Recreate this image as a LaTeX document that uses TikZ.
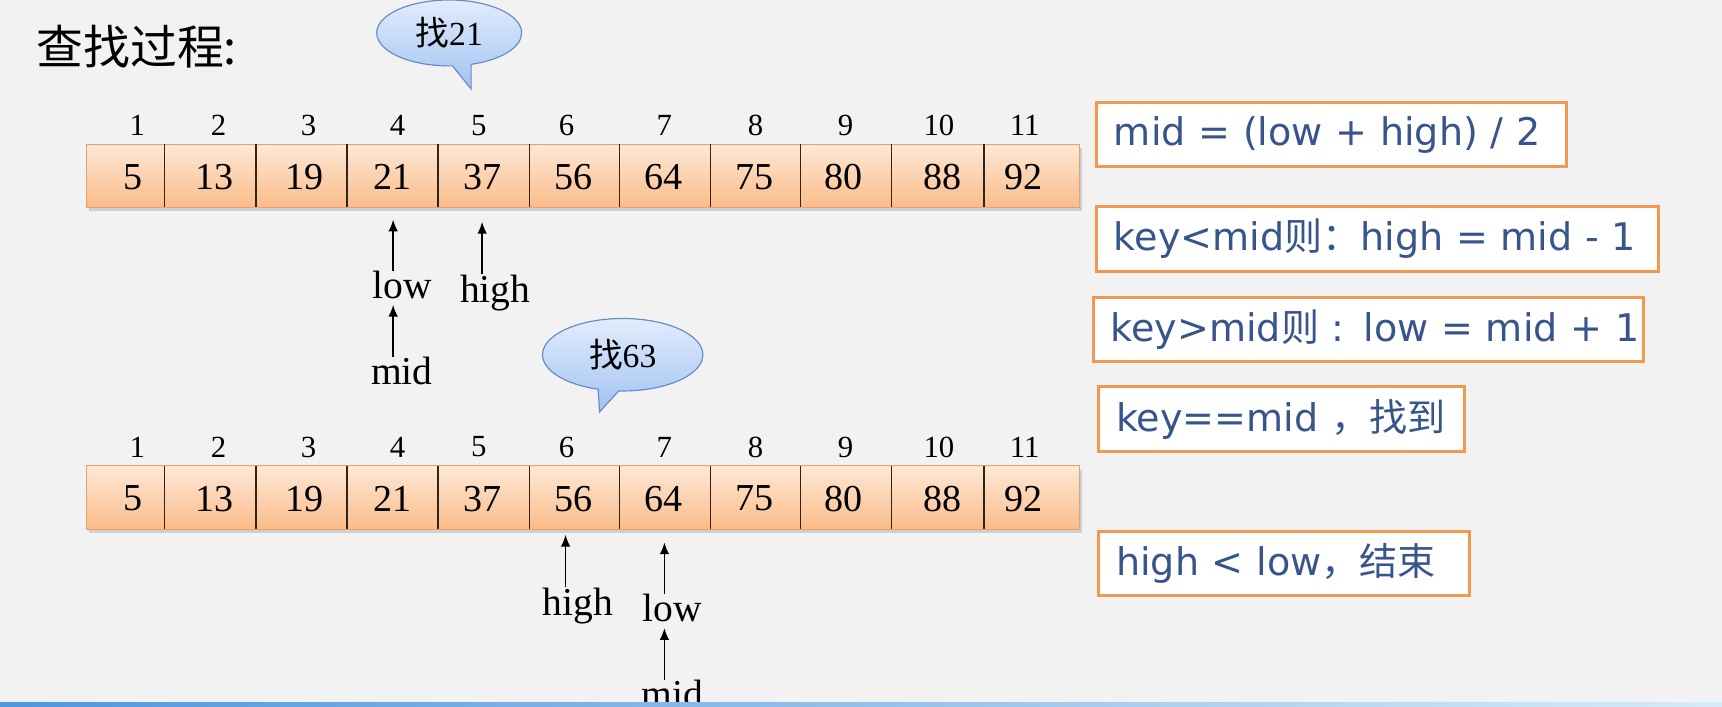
\documentclass[tikz,border=0pt]{standalone}
\usepackage{fontspec}
\setmainfont{Liberation Serif}
\newfontfamily\cjk{Noto Sans CJK SC}
\newfontfamily\rulesans{DejaVu Sans}
\usetikzlibrary{shapes.callouts,shadows,arrows.meta}

\definecolor{slideBg}{RGB}{242,242,242}
\definecolor{cellTop}{RGB}{254,232,214}
\definecolor{cellBot}{RGB}{250,188,138}
\definecolor{cellEdge}{RGB}{238,160,100}
\definecolor{cellLine}{RGB}{50,35,25}
\definecolor{bubbleTop}{RGB}{226,236,252}
\definecolor{bubbleBot}{RGB}{162,194,242}
\definecolor{bubbleEdge}{RGB}{100,140,200}
\definecolor{ruleEdge}{RGB}{243,152,80}
\definecolor{ruleText}{RGB}{55,85,140}
\definecolor{barBlue}{RGB}{80,150,222}
\definecolor{barPale}{RGB}{215,235,248}

\tikzset{
  arraybox/.style={draw=cellEdge, line width=0.8pt, top color=cellTop, bottom color=cellBot,
    minimum width=678pt, minimum height=43.2pt, inner sep=0pt,
    drop shadow={opacity=0.3,shadow xshift=1.5pt,shadow yshift=-2.5pt}},
  celldiv/.style={draw=cellLine, line width=1pt},
  idx/.style={font=\fontsize{21}{24}\selectfont, inner sep=0pt},
  val/.style={font=\fontsize{26}{30}\selectfont, inner sep=0pt},
  ptrlabel/.style={font=\fontsize{27}{30}\selectfont, inner sep=0pt, anchor=base},
  ptr/.style={-{Latex[length=8pt,width=6.5pt]}, line width=1pt},
  bubble/.style={ellipse callout, draw=bubbleEdge, line width=0.8pt, top color=bubbleTop,
    bottom color=bubbleBot, inner sep=0pt, font=\fontsize{23}{26}\selectfont},
  rulebox/.style={draw=ruleEdge, line width=2pt, fill=white, anchor=west, inner xsep=12pt,
    inner ysep=0pt, minimum height=44pt, align=left, text=ruleText,
    font=\rulesans\fontsize{26}{30}\selectfont},
}

\begin{document}
\begin{tikzpicture}[x=0.75pt,y=0.75pt,yscale=-1,xscale=1]
\clip (0,0) rectangle (1568,643);
\fill[slideBg] (0,0) rectangle (1568,643);

% title
\node[anchor=base west, inner sep=0pt, font=\cjk\fontsize{32}{36}\selectfont] (title) at (33,59) {查找过程:};

% the two arrays
\foreach \r/\dy in {A/0,B/293} {
  \node[arraybox] (row\r) at (531,160+\dy) {};
  \foreach \x in {150,233,316,399,482,564,647,729,812,896}
    \draw[celldiv] (\x,131+\dy) -- (\x,188.6+\dy);
  \foreach \n/\x/\v in {1/121/5,2/195/13,3/277/19,4/357/21,5/439/37,6/522/56,7/604/64,8/687/75,9/768/80,10/858/88,11/932/92}
    \node[val] (v\r\n) at (\x,161+\dy) {\v};
  \foreach \n/\x in {1/125,2/199,3/281,4/362,5/436,6/516,7/605,8/688,9/770,10/855,11/933}
    \node[idx] (i\r\n) at (\x,114+\dy) {\n};
}

% search bubbles
\coordinate (tailA) at (429,81);
\coordinate (tailB) at (546,375);
\node[bubble, minimum width=99pt, minimum height=45pt, callout absolute pointer=(tailA)] (askA) at (409,30) {{\cjk 找}21};
\node[bubble, minimum width=109.5pt, minimum height=49.5pt, callout absolute pointer=(tailB)] (askB) at (567,323) {{\cjk 找}63};

% pointers, first search
\node[ptrlabel] (lowA) at (366,271.6) {low};
\node[ptrlabel] (highA) at (451,275) {high};
\node[ptrlabel] (midA) at (366,350) {mid};
\coordinate (tipLowA) at (358,200);
\coordinate (tipHighA) at (439,202);
\draw[ptr] (lowA.north -| tipLowA) -- (tipLowA);
\draw[ptr] (highA.north -| tipHighA) -- (tipHighA);
\draw[ptr, shorten >=4pt] (midA.north -| tipLowA) -- (lowA.south -| tipLowA);

% pointers, second search
\node[ptrlabel] (highB) at (526,560) {high};
\node[ptrlabel] (lowB) at (612,566) {low};
\node[ptrlabel] (midB) at (612,644) {mid};
\coordinate (tipHighB) at (515,487);
\coordinate (tipLowB) at (605,494);
\draw[ptr] (highB.north -| tipHighB) -- (tipHighB);
\draw[ptr] (lowB.north -| tipLowB) -- (tipLowB);
\draw[ptr, shorten >=4pt] (midB.north -| tipLowB) -- (lowB.south -| tipLowB);

% rules
\node[rulebox, text width=297pt] (ruleMid) at (997,122.6) {mid = (low + high) / 2};
\node[rulebox, text width=360pt] (ruleLess) at (997,217.7) {key<mid{\cjk 则：}high = mid - 1};
\node[rulebox, text width=352pt] (ruleMore) at (994,300) {\mbox{key>mid{\cjk 则} : low = mid + 1}};
\node[rulebox, text width=226pt] (ruleHit) at (999,381.5) {key==mid {\cjk ，找到}};
\node[rulebox, text width=229pt] (ruleEnd) at (999,513) {high < low{\cjk ，结束}};

% slide bar
\shade[left color=barBlue, right color=barPale] (0,640) rectangle (1568,643);
\end{tikzpicture}
\end{document}
